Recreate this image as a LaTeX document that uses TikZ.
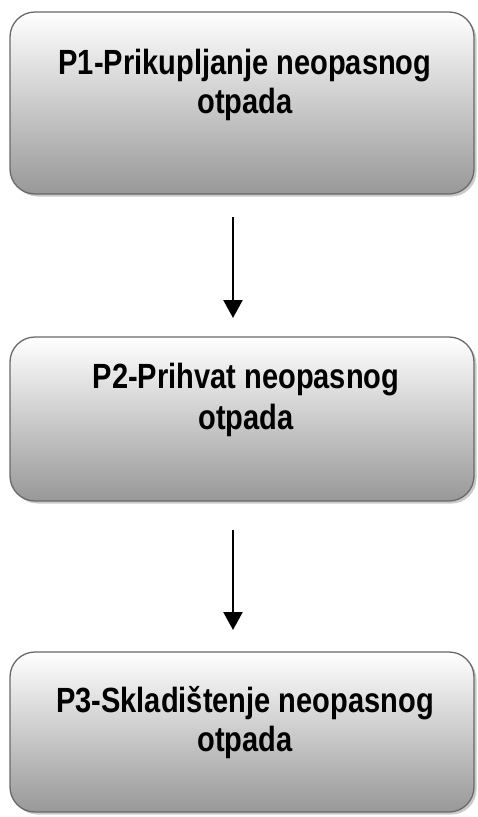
\documentclass[tikz,border=0pt]{standalone}
\usepackage{fontspec}
\newfontfamily\boxfont{Liberation Sans Bold}[FakeStretch=0.83]
\usetikzlibrary{arrows.meta,shadows}
\definecolor{boxtop}{RGB}{255,255,255}
\definecolor{boxbot}{RGB}{152,152,152}
\definecolor{boxline}{RGB}{105,105,105}
\tikzset{
  procbox/.style={draw=boxline, line width=1.3pt, rounded corners=25pt,
    top color=boxtop, bottom color=boxbot,
    drop shadow={shadow xshift=2.5pt, shadow yshift=-2.5pt, opacity=0.35, fill=black!60}},
  boxtext/.style={anchor=base, inner sep=0pt, font=\boxfont\fontsize{35}{39}\selectfont, text=black},
  flow/.style={line width=2.3pt, -{Triangle[width=19pt,length=18pt]}}
}
\begin{document}
\begin{tikzpicture}[x=1pt,y=-1pt]
\useasboundingbox (0,0) rectangle (477,817);
\draw[procbox] (10,12) rectangle (474,194);
\draw[procbox] (10,337) rectangle (474,501);
\draw[procbox] (10,652) rectangle (474,812);
\node[boxtext] (t1a) at (245,74) {P1-Prikupljanje neopasnog};
\node[boxtext] (t1b) at (245,113) {otpada};
\node[boxtext] (t2a) at (246,388) {P2-Prihvat neopasnog};
\node[boxtext] (t2b) at (246,429) {otpada};
\node[boxtext] (t3a) at (245,712) {P3-Skladištenje neopasnog};
\node[boxtext] (t3b) at (245,751) {otpada};
\coordinate (a1s) at (233,217);
\coordinate (a1e) at (233,318);
\coordinate (a2s) at (233,530);
\coordinate (a2e) at (233,630);
\draw[flow] (a1s) -- (a1e);
\draw[flow] (a2s) -- (a2e);
\end{tikzpicture}
\end{document}
